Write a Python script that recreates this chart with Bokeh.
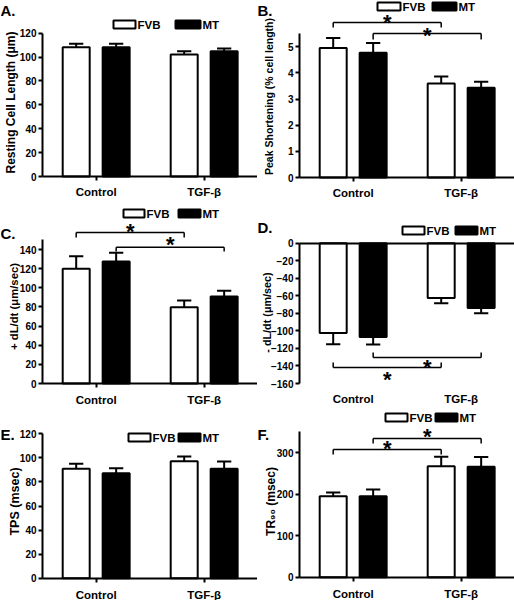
import math
from bokeh.plotting import figure
from bokeh.layouts import column, row
from bokeh.models import FixedTicker, LinearAxis
from bokeh.embed import file_html
from bokeh.resources import INLINE
from bokeh.core.properties import value

# ---------------- data ----------------
groups = ["Control", "TGF-β"]
series = ["FVB", "MT"]

a_fvb = [108.3, 102.2]; a_fvb_err = [2.8, 2.8]
a_mt = [108.3, 105.0]; a_mt_err = [2.8, 2.2]
b_fvb = [4.96, 3.60]; b_fvb_err = [0.38, 0.27]
b_mt = [4.77, 3.43]; b_mt_err = [0.38, 0.23]
c_fvb = [120.0, 79.7]; c_fvb_err = [13.0, 7.0]
c_mt = [127.5, 90.9]; c_mt_err = [9.0, 6.0]
d_fvb = [-102.3, -62.4]; d_fvb_err = [13.0, 6.0]
d_mt = [-107.0, -74.0]; d_mt_err = [8.5, 6.0]
e_fvb = [90.9, 97.2]; e_fvb_err = [4.2, 3.9]
e_mt = [87.3, 90.9]; e_mt_err = [4.1, 6.1]
f_fvb = [195.0, 267.0]; f_fvb_err = [9.0, 23.0]
f_mt = [195.0, 266.0]; f_mt_err = [16.0, 23.0]

a_ticks = [0, 20, 40, 60, 80, 100, 120]
b_ticks = [0, 1, 2, 3, 4, 5]
c_ticks = [0, 20, 40, 60, 80, 100, 120, 140]
d_ticks = [0, -20, -40, -60, -80, -100, -120, -140, -160]
e_ticks = [0, 20, 40, 60, 80, 100, 120]
f_ticks = [0, 100, 200, 300]

# ---------------- layout ----------------
FONT = "Liberation Sans"
W = 257
ROW_H = [200, 205, 195]
AX = 42            # y-axis pixel position inside each panel
X0 = 0.503
PXU = 108          # pixels per category unit
OFF = 0.185
BW = 0.25
CAP = 0.066


def xd(px):
    return X0 + (px - AX) / PXU


XS, XE = xd(0), xd(W)


def style_axis(ax, size):
    ax.major_label_text_font = FONT
    ax.major_label_text_font_style = "bold"
    ax.major_label_text_font_size = size
    ax.major_label_text_color = "black"
    ax.axis_line_width = 2
    ax.major_tick_line_width = 2
    ax.major_tick_out = 4
    ax.major_tick_in = 0
    ax.minor_tick_line_color = None


def make_panel(P, fvb, fvb_err, mt, mt_err):
    H = ROW_H[P["row"]]
    lo = P["lo"]

    def yd(py):
        return lo + (P["fb"] - py) / P["k"]

    p = figure(width=W, height=H, x_range=(XS, XE), y_range=(yd(H), yd(0)),
               output_backend="svg", toolbar_location=None,
               min_border_left=0, min_border_right=0, min_border_top=0,
               min_border_bottom=0)
    p.outline_line_color = None
    p.grid.visible = False
    p.background_fill_color = "white"
    p.border_fill_color = "white"

    # y axis, drawn at a fixed x position inside the frame
    ya = p.yaxis[0]
    ya.fixed_location = xd(AX)
    ya.ticker = FixedTicker(ticks=P["ticks"])
    ya.bounds = (P["lo"], P["hi"])
    ya.major_label_standoff = 2
    style_axis(ya, "10px")

    # y axis title
    p.text(x=[xd(P["lab_x"])], y=[yd(P["lab_y"])], text=[P["ylabel"]], angle=math.pi / 2,
           text_font=value(FONT), text_font_style="bold", text_font_size=P["lfs"],
           text_align="center", text_baseline="middle", text_color="black")

    # x axis (category axis), at the bottom of the value axis
    xa = p.xaxis[0]
    xa.fixed_location = lo
    xa.ticker = FixedTicker(ticks=[1, 2])
    xa.bounds = (xd(AX), XE)
    xa.major_label_overrides = {1: groups[0], 2: groups[1]}
    xa.major_label_standoff = P.get("xso", 5)
    style_axis(xa, "11.5px")
    if P.get("neg"):
        xa.axis_line_color = None
        xa.major_tick_line_color = None
        zero_axis = LinearAxis(fixed_location=0, ticker=FixedTicker(ticks=[]),
                               bounds=(xd(AX), XE), axis_line_width=2,
                               major_tick_line_color=None, minor_tick_line_color=None,
                               major_label_text_color=None)
        p.add_layout(zero_axis, "below")

    gx = [1, 2]
    xs = {"FVB": [g - OFF for g in gx], "MT": [g + OFF for g in gx]}
    vals = {"FVB": (fvb, fvb_err), "MT": (mt, mt_err)}
    fills = {"FVB": "white", "MT": "black"}

    for s in series:
        v, e = vals[s]
        tips = [vi + (ei if vi >= 0 else -ei) for vi, ei in zip(v, e)]
        p.segment(x0=xs[s], y0=v, x1=xs[s], y1=tips, line_color="black", line_width=2)
        p.segment(x0=[x - CAP for x in xs[s]], y0=tips, x1=[x + CAP for x in xs[s]], y1=tips,
                  line_color="black", line_width=2)
        p.vbar(x=xs[s], top=v, bottom=0, width=BW, fill_color=fills[s],
               line_color="black", line_width=2)

    # legend
    ly = yd(P["leg_y"])
    for s, (bx0, bx1) in zip(series, P["leg_boxes"]):
        p.rect(x=[xd((bx0 + bx1) / 2)], y=[ly], width=(bx1 - bx0), height=8,
               width_units="screen", height_units="screen",
               fill_color=fills[s], line_color="black", line_width=2)
        p.text(x=[xd(bx1 + 2)], y=[ly], text=[s], text_font=value(FONT),
               text_font_style="bold", text_font_size="11.5px",
               text_baseline="middle", text_align="left", text_color="black")

    # significance brackets
    for (s, ybar, yend, ystar) in P.get("brackets", []):
        xa_, xb_ = xs[s][0], xs[s][1]
        yb, ye = yd(ybar), yd(yend)
        p.segment(x0=[xa_, xa_, xb_], y0=[yb, yb, yb], x1=[xb_, xa_, xb_], y1=[yb, ye, ye],
                  line_color="black", line_width=1.5)
        p.text(x=[(xa_ + xb_) / 2], y=[yd(ystar)], text=["*"], text_font=value(FONT),
               text_font_style="bold", text_font_size="22px",
               text_baseline="alphabetic", text_align="center", y_offset=4,
               text_color="black")

    # panel letter
    lx, lyy = P["letter_pos"]
    p.text(x=[xd(lx)], y=[yd(lyy)], text=[P["letter"]], text_font=value(FONT),
           text_font_style="bold", text_font_size="15px", text_baseline="middle",
           text_align="left", text_color="black")
    return p


PA = dict(row=0, lo=0, hi=120, fb=176, k=1.194, ticks=a_ticks, xso=5,
          ylabel="Resting Cell Length (μm)", lfs="12px", lab_x=10, lab_y=102, leg_y=24,
          leg_boxes=[(113, 135), (175, 200)], letter="A.", letter_pos=(0, 10))
PB = dict(row=0, lo=0, hi=5.5, fb=177, k=26.13, ticks=b_ticks, xso=5,
          ylabel="Peak Shortening (% cell length)", lfs="10.5px", lab_x=11, lab_y=96, leg_y=6,
          leg_boxes=[(120, 143), (175, 199)], letter="B.", letter_pos=(0, 10),
          brackets=[("FVB", 22, 27, 18), ("MT", 33, 39, 30.5)])
PC = dict(row=1, lo=0, hi=150, fb=183, k=0.957, ticks=c_ticks, xso=6,
          ylabel="+ dL/dt (μm/sec)", lfs="11.3px", lab_x=13, lab_y=106, leg_y=13,
          leg_boxes=[(123, 144), (178, 200)], letter="C.", letter_pos=(0, 33),
          brackets=[("FVB", 32, 37, 27), ("MT", 46.7, 51, 39.5)])
PD = dict(row=1, lo=-160, hi=0, fb=183, k=0.877, ticks=d_ticks, neg=True, xso=5,
          ylabel="- dL/dt (μm/sec)", lfs="10.8px", lab_x=9, lab_y=112, leg_y=30,
          leg_boxes=[(145, 167), (198, 220)], letter="D.", letter_pos=(0, 27),
          brackets=[("MT", 157, 152, 162.5), ("FVB", 167, 162, 175)])
PE = dict(row=2, lo=0, hi=120, fb=172.7, k=1.2033, ticks=e_ticks, xso=7,
          ylabel="TPS (msec)", lfs="12.5px", lab_x=14, lab_y=96, leg_y=32,
          leg_boxes=[(128, 150), (178, 200)], letter="E.", letter_pos=(0, 29))
PF = dict(row=2, lo=0, hi=350, fb=171.7, k=0.4156, ticks=f_ticks, xso=7,
          ylabel="TR₉₀ (msec)", lfs="12px", lab_x=13, lab_y=96, leg_y=12,
          leg_boxes=[(128, 150), (178, 200)], letter="F.", letter_pos=(0, 29),
          brackets=[("FVB", 44, 49, 38.5), ("MT", 33, 38, 27)])

pa = make_panel(PA, a_fvb, a_fvb_err, a_mt, a_mt_err)
pb = make_panel(PB, b_fvb, b_fvb_err, b_mt, b_mt_err)
pc = make_panel(PC, c_fvb, c_fvb_err, c_mt, c_mt_err)
pd = make_panel(PD, d_fvb, d_fvb_err, d_mt, d_mt_err)
pe = make_panel(PE, e_fvb, e_fvb_err, e_mt, e_mt_err)
pf = make_panel(PF, f_fvb, f_fvb_err, f_mt, f_mt_err)

layout = column(row(pa, pb, spacing=0), row(pc, pd, spacing=0), row(pe, pf, spacing=0), spacing=0)

open("out.html", "w").write(file_html(layout, INLINE))
